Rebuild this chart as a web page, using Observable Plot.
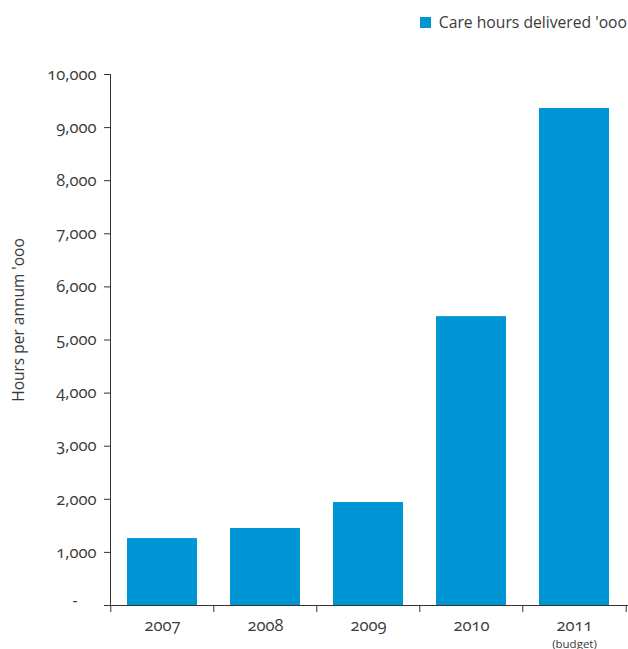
<!DOCTYPE html>
<html><head><meta charset="utf-8">
<script src="https://cdn.jsdelivr.net/npm/d3@7"></script>
<script src="https://cdn.jsdelivr.net/npm/@observablehq/plot@0.6"></script>
<style>
body{margin:0;background:#fff;font-family:"Open Sans",sans-serif;font-variant-numeric:oldstyle-nums;color:#3a3a3a}
#legend{height:44px;display:flex;justify-content:flex-end;align-items:center;padding-right:1px;font-size:15.7px}
.sw{width:11px;height:11px;background:#0096d6;margin-right:8px}
svg text{font-variant-numeric:oldstyle-nums}
</style></head><body>
<div id="legend"><span class="sw"></span><span>Care hours delivered 'ooo</span></div>
<div id="chart"></div>
<script>
const years = ["2007", "2008", "2009", "2010", "2011"];
const hours = [1260, 1450, 1940, 5440, 9360];
const notes = ["", "", "", "", "(budget)"];
const yTicks = [1000, 2000, 3000, 4000, 5000, 6000, 7000, 8000, 9000, 10000];
const seriesName = "Care hours delivered 'ooo";
const yLabel = "Hours per annum 'ooo";

const data = years.map((y, i) => ({year: y, hours: hours[i], note: notes[i]}));

const W = 628, ML = 110, MR = 1;
const step = (W - ML - MR) / years.length;
const ink = "#3a3a3a";
const blue = "#0096d6";

const chart = Plot.plot({
  width: W,
  height: 605,
  marginTop: 30,
  marginBottom: 44,
  marginLeft: ML,
  marginRight: MR,
  style: {fontFamily: "'Open Sans', sans-serif", fontSize: "16px", color: ink, background: "#fff"},
  x: {domain: years, paddingInner: 0.32, paddingOuter: 0.16, label: null},
  y: {domain: [0, 10000], label: null},
  marks: [
    Plot.barY(data, {x: "year", y: "hours", fill: blue}),
    Plot.ruleY([0], {stroke: "#333", insetLeft: -6, insetRight: -1}),
    Plot.frame({anchor: "left", stroke: "#333"}),
    Plot.axisY({ticks: yTicks, tickSize: 6, tickPadding: 8, tickFormat: d3.format(","), fontSize: 16.5, fill: ink, stroke: "#333", label: null}),
    Plot.text(["-"], {frameAnchor: "bottom-left", dx: -38, fontSize: 16, fill: ink}),
    Plot.axisX({tickSize: 0, tickPadding: 14, fontSize: 16.5, fill: ink, label: null}),
    Plot.axisX({tickSize: 7, tickFormat: () => "", dx: -step / 2, stroke: "#333", label: null}),
    Plot.axisX({ticks: [years[years.length - 1]], tickSize: 7, tickFormat: () => "", dx: step / 2, stroke: "#333", label: null}),
    Plot.text(data, {x: "year", text: "note", frameAnchor: "bottom", dy: 42, fontSize: 11.5, fill: ink}),
    Plot.text([yLabel], {frameAnchor: "left", textAnchor: "middle", rotate: -90, dx: -91, dy: -20, fontSize: 15.5, fill: ink})
  ]
});
document.getElementById("chart").appendChild(chart);
</script>
</body></html>
